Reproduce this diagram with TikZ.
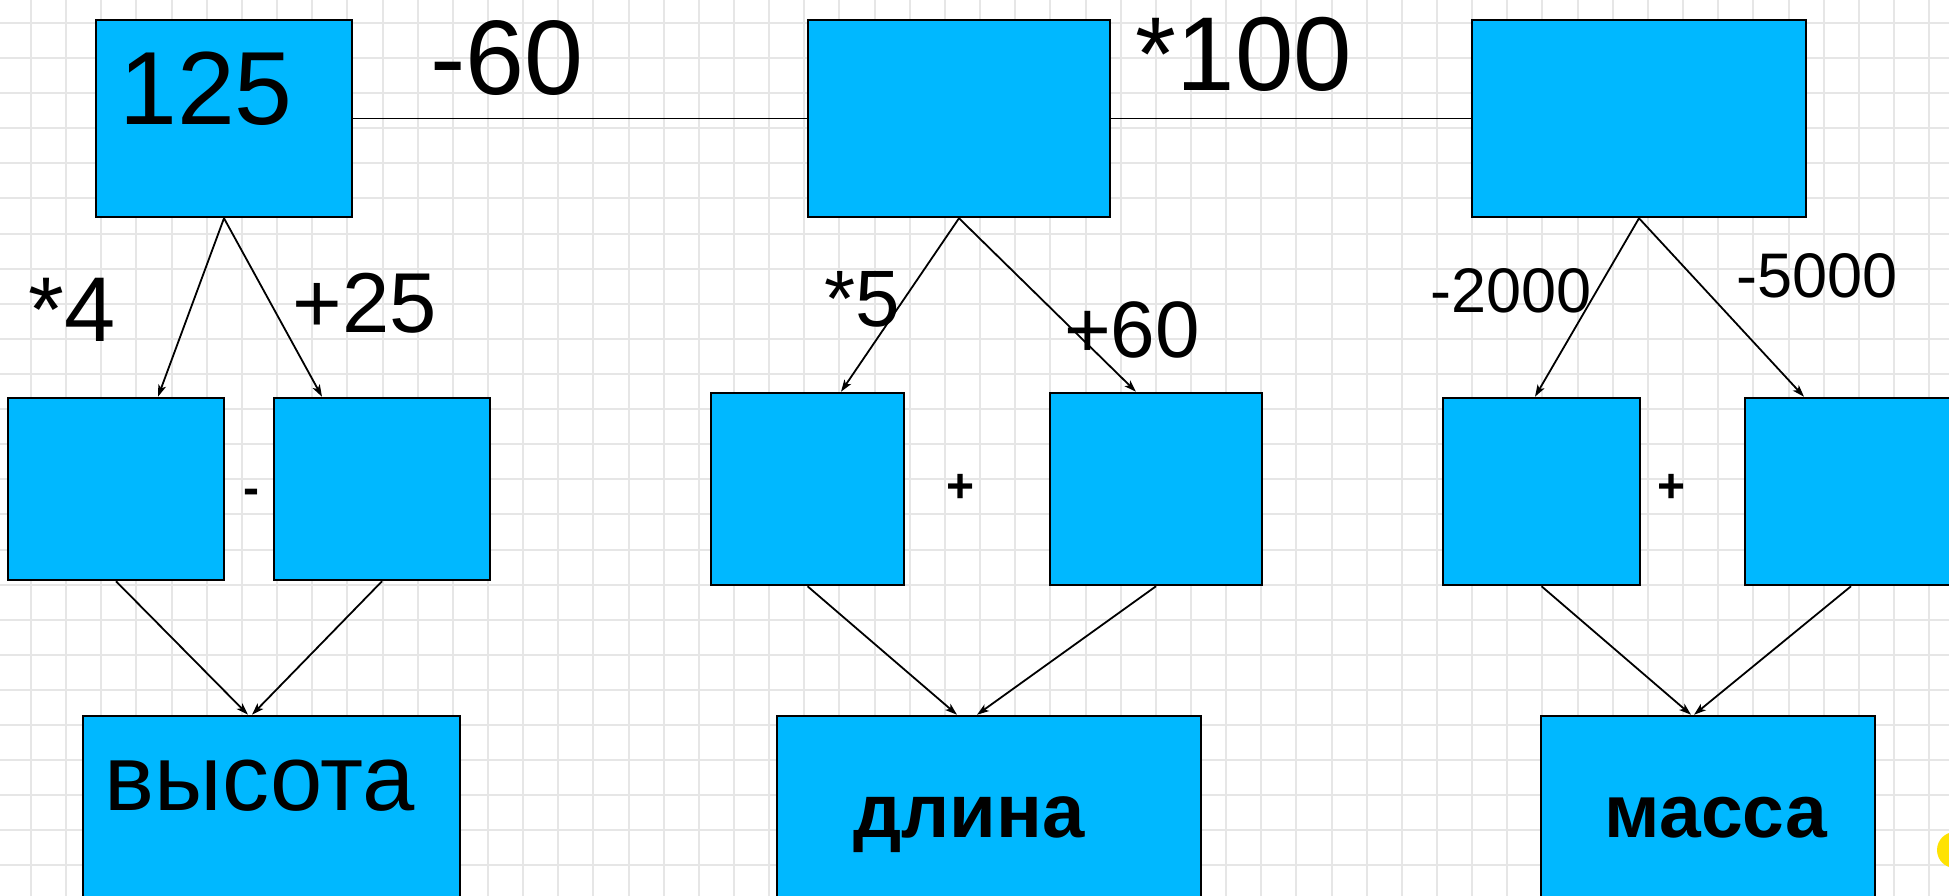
\documentclass[tikz,border=0pt]{standalone}
\usepackage{fontspec}
\setmainfont{Liberation Sans}
\usetikzlibrary{arrows.meta}
\definecolor{boxblue}{RGB}{0,184,255}
\definecolor{gridgray}{RGB}{230,230,230}
\newcommand{\fsz}[1]{\fontsize{#1}{#1}\selectfont}

\begin{document}
\begin{tikzpicture}
    [x=1pt,y=-1pt,
     box/.style={draw=black,fill=boxblue,line width=2.5pt,inner sep=0pt},
     lbl/.style={inner sep=0pt,anchor=base},
     post/.style={-{Stealth[length=12pt,width=8pt,inset=3pt]},line width=1.8pt},
     gridline/.style={gridgray,line width=2pt}]
    \useasboundingbox (0,0) rectangle (1949,896);
    \clip (0,0) rectangle (1949,896);
    \fill [white] (0,0) rectangle (1949,896);
    \foreach \k in {0,...,55} \draw [gridline] ({31+35.15*\k},0) -- ++(0,896);
    \foreach \k in {0,...,25} \draw [gridline] (0,{23+35.1*\k}) -- ++(1949,0);
    \fill [yellow!85!orange] (1955,850) circle (18);
    % top row
    \node [box,minimum width=256pt,minimum height=197pt] (A) at (224,118.5) {};
    \node [box,minimum width=302pt,minimum height=197pt] (B) at (959,118.5) {};
    \node [box,minimum width=334pt,minimum height=197pt] (C) at (1639,118.5) {};
    \draw [line width=1.8pt] (A.east) -- (B.west);
    \draw [line width=1.8pt] (B.east) -- (C.west);
    % middle row
    \node [box,minimum width=216pt,minimum height=182pt] (D1) at (116,489) {};
    \node [box,minimum width=216pt,minimum height=182pt] (D2) at (382,489) {};
    \node [box,minimum width=193pt,minimum height=192pt] (E1) at (807.5,489) {};
    \node [box,minimum width=212pt,minimum height=192pt] (E2) at (1156,489) {};
    \node [box,minimum width=197pt,minimum height=187pt] (F1) at (1541.5,491.5) {};
    \node [box,minimum width=212pt,minimum height=187pt] (F2) at (1851,491.5) {};
    % bottom row
    \node [box,minimum width=377pt,minimum height=200pt] (G) at (271.5,816) {};
    \node [box,minimum width=424pt,minimum height=200pt] (H) at (989,816) {};
    \node [box,minimum width=334pt,minimum height=200pt] (I) at (1708,816) {};
    % arrows down
    \draw [post] (A.south) -- ([xshift=42pt]D1.north);
    \draw [post] (A.south) -- ([xshift=-60pt]D2.north);
    \draw [post] (B.south) -- ([xshift=33.5pt]E1.north);
    \draw [post] (B.south) -- ([xshift=-20pt]E2.north);
    \draw [post] (C.south) -- ([xshift=-6.5pt]F1.north);
    \draw [post] (C.south) -- ([xshift=-47pt]F2.north);
    \draw [post] (D1.south) -- ([xshift=-23.5pt]G.north);
    \draw [post] (D2.south) -- ([xshift=-19.5pt]G.north);
    \draw [post] (E1.south) -- ([xshift=-32pt]H.north);
    \draw [post] (E2.south) -- ([xshift=-12pt]H.north);
    \draw [post] (F1.south) -- ([xshift=-17pt]I.north);
    \draw [post] (F2.south) -- ([xshift=-14pt]I.north);
    % texts
    \node [lbl,font=\fsz{104}] (v125) at (206,125) {125};
    \node [lbl,font=\fsz{106}] (m60) at (507,95) {-60};
    \node [lbl,font=\fsz{105}] (x100) at (1244,91) {*100};
    \node [lbl,font=\fsz{92}] (x4) at (72,341) {*4};
    \node [lbl,font=\fsz{85}] (p25) at (365,332) {+25};
    \node [lbl,font=\fsz{80}] (x5) at (862,326) {*5};
    \node [lbl,font=\fsz{80}] (p60) at (1132,357) {+60};
    \node [lbl,font=\fsz{63}] (m2000) at (1511,312) {-2000};
    \node [lbl,font=\fsz{63}] (m5000) at (1817,297) {-5000};
    \node [lbl,font=\fsz{48}\bfseries] (opD) at (251,504) {-};
    \node [lbl,font=\fsz{48}\bfseries] (opE) at (961,502) {+};
    \node [lbl,font=\fsz{48}\bfseries] (opF) at (1671,502) {+};
    \node [lbl,font=\fsz{94}] (hgt) at (260,810) {высота};
    \node [lbl,font=\fsz{76}\bfseries] (len) at (969,837) {длина};
    \node [lbl,font=\fsz{75}\bfseries] (mass) at (1716,837) {масса};
\end{tikzpicture}
\end{document}
